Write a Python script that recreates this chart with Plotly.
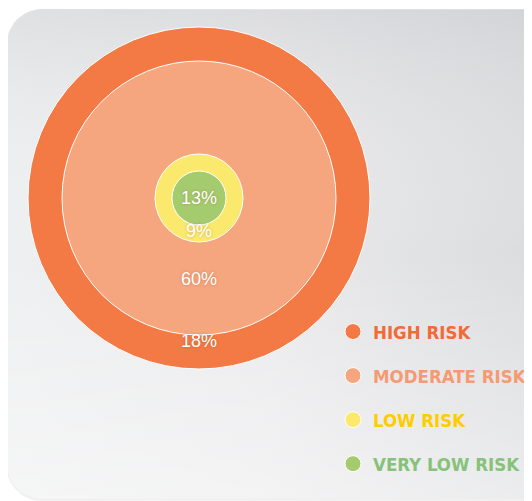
import plotly.graph_objects as go

# ---- data ----
categories = ["HIGH RISK", "MODERATE RISK", "LOW RISK", "VERY LOW RISK"]
values = [18, 60, 9, 13]

# ---- style ----
circle_colors = ["#f47a45", "#f6a67e", "#fbe96e", "#a5cb6f"]
legend_text_colors = ["#f26a35", "#f59a72", "#ffcc00", "#86c27a"]
diameters = [342, 274, 88, 54]          # px
label_dy = [144, 82, 34, 1]             # px below centre
cx, cy = 199, 198
W, H = 532, 501
OFF = 8   # page body margin
FW, FH = W - OFF, H - OFF

fig = go.Figure()

# panel (rounded rectangle with gradient)
def rounded_rect(x0, y0, x1, y1, r, n=12):
    import math
    xs, ys = [], []
    corners = [(x0 + r, y0 + r, 180, 270), (x1 - r, y0 + r, 270, 360),
               (x1 - r, y1 - r, 0, 90), (x0 + r, y1 - r, 90, 180)]
    for ccx, ccy, a0, a1 in corners:
        for i in range(n + 1):
            a = math.radians(a0 + (a1 - a0) * i / n)
            xs.append(ccx + r * math.cos(a))
            ys.append(ccy + r * math.sin(a))
    xs.append(xs[0]); ys.append(ys[0])
    return xs, ys

sx, sy = rounded_rect(6, 10, 580, 501, 36)
fig.add_trace(go.Scatter(x=sx, y=sy, mode="lines", fill="toself",
                         fillcolor="rgba(0,0,0,0.06)", line=dict(width=0),
                         hoverinfo="skip", showlegend=False))
px_, py_ = rounded_rect(7, 9, 580, 499, 35)
fig.add_trace(go.Scatter(x=px_, y=py_, mode="lines", fill="toself",
                         fillgradient=dict(type="horizontal",
                                           colorscale=[[0, "#eeeff0"], [0.45, "#eaeaec"], [1, "#d9dadc"]]),
                         line=dict(width=0), hoverinfo="skip", showlegend=False))
fig.add_trace(go.Scatter(x=px_, y=py_, mode="lines", fill="toself",
                         fillgradient=dict(type="vertical",
                                           colorscale=[[0, "rgba(255,255,255,0.45)"], [0.5, "rgba(255,255,255,0)"],
                                                       [1, "rgba(195,196,200,0.35)"]]),
                         line=dict(width=0), hoverinfo="skip", showlegend=False))

# nested circles
for cat, col, tcol, d in zip(categories, circle_colors, legend_text_colors, diameters):
    fig.add_trace(go.Scatter(
        x=[cx], y=[cy], mode="markers",
        marker=dict(size=d, color=col, line=dict(color="white", width=1)),
        name=f"<span style='color:{tcol}'>{cat}</span>",
        legendgroup=cat, hoverinfo="skip"))

# percentage labels
fig.add_trace(go.Scatter(
    x=[cx] * len(values), y=[cy + dy for dy in label_dy], mode="text",
    text=[f"{v}%" for v in values],
    textfont=dict(family="Liberation Sans, Arial", size=18, color="white",
                  shadow="0px 0px 3px rgba(120,60,20,0.35)"),
    hoverinfo="skip", showlegend=False))

fig.update_layout(
    width=FW, height=FH, margin=dict(l=0, r=0, t=0, b=0, autoexpand=False),
    paper_bgcolor="white", plot_bgcolor="rgba(0,0,0,0)",
    xaxis=dict(range=[OFF, W], visible=False, fixedrange=True),
    yaxis=dict(range=[H, OFF], visible=False, fixedrange=True),
    showlegend=True,
    legend=dict(x=(333 - OFF) / FW, y=1 - (313 - OFF) / FH, xanchor="left", yanchor="top",
                bgcolor="rgba(0,0,0,0)", tracegroupgap=17, traceorder="grouped",
                font=dict(family="DejaVu Sans Condensed, Liberation Sans Narrow, Arial Narrow",
                          size=18.5, weight="bold")),
)

fig.write_html("out.html")
